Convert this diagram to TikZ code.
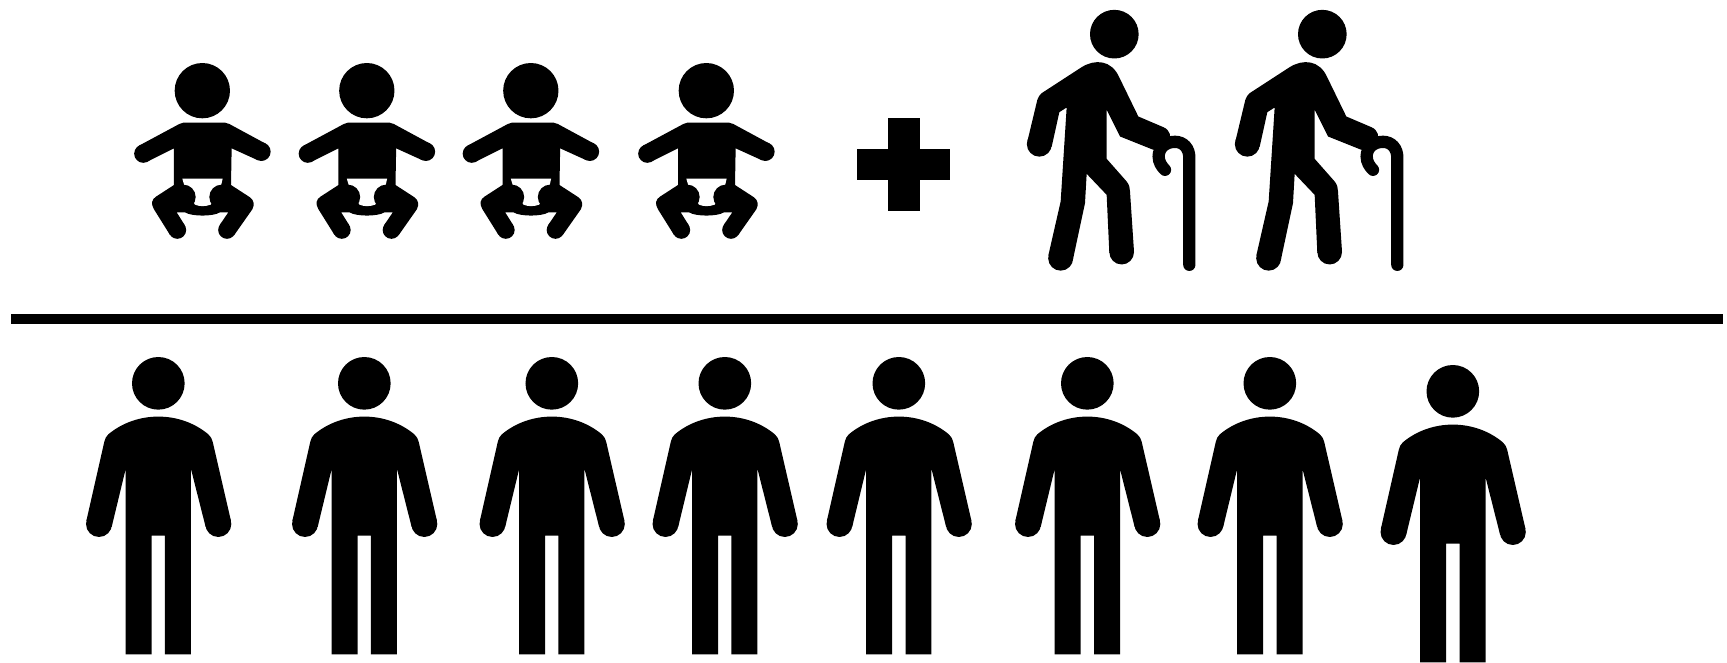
\documentclass[tikz,border=0pt]{standalone}
\tikzset{
  fig/.style={x=0.3333pt,y=-0.3333pt},
  blk/.style={fill=black,draw=none},
  cane/.style={draw=black,line width=12.3pt,line cap=round,fill=none},
}
\newcommand{\baby}[2]{\begin{scope}[shift={(#1,#2)},fig]
  \fill[blk] (247,122) circle (83);
  \fill[blk] (178,222) .. controls (182,219) and (186,218) .. (190,218) -- (315,218)
     .. controls (320,218) and (324,219) .. (328,222)
     -- (437,281) -- (412,330) -- (335,295) -- (333,405) -- (390,442)
     .. controls (402,450) and (404,465) .. (397,478)
     -- (342.5,555.5) -- (299.5,524.5) -- (325,487) -- (300,487)
     .. controls (280,500) and (215,500) .. (195,487)
     -- (170,487) -- (194.3,525.7) -- (149.7,554.3)
     -- (102,478) .. controls (92,462) and (95,448) .. (108,440)
     -- (162,405) -- (162,295) -- (82,335) -- (57,287) -- cycle;
  \fill[blk] (424,305) circle (28) (70,311) circle (27.5)
     (321,540) circle (26.5) (172,540) circle (26.5);
  \fill[white] (187,386) -- (308,386) -- (300,420) -- (272,464)
     .. controls (255,470) and (240,470) .. (225,464)
     -- (197,420) -- cycle;
  \fill[blk] (305,441) circle (37) (190,441) circle (37);
\end{scope}}
\newcommand{\elder}[2]{\begin{scope}[shift={(#1,#2)},fig]
  \fill[blk] (313,98) circle (73);
  \fill[blk] (215,197) .. controls (255,172) and (305,175) .. (328,228)
     -- (385,345) -- (460,377) .. controls (480,385) and (490,410) .. (470,425)
     -- (430,445) -- (330,405) -- (290,325) -- (290,472) -- (350,540)
     .. controls (358,550) and (360,560) .. (360,570)
     -- (372,750) -- (298,754) -- (290,580) -- (230,517) -- (225,605)
     -- (188,778) -- (115,762) -- (152,600) -- (170,318) -- (148,332)
     -- (125,436) -- (52,420)
     -- (82,295) .. controls (85,285) and (90,280) .. (95,275) -- cycle;
  \fill[blk] (335,752) circle (37) (152,770) circle (37.5) (88,428) circle (37.5);
  \draw[cane] (538,790) -- (538,468) .. controls (538,440) and (520,421) .. (495,421)
     .. controls (465,421) and (446,440) .. (446,465)
     .. controls (446,482) and (455,495) .. (465,505);
\end{scope}}
\newcommand{\person}[2]{\begin{scope}[shift={(#1,#2)},fig]
  \fill[blk] (265,115) circle (79);
  \fill[blk] (115,268) .. controls (200,197) and (330,197) .. (415,268)
     .. controls (422,274) and (426,282) .. (428,290)
     -- (483,528) -- (407,546)
     -- (363,372) -- (363,928) -- (285,928) -- (285,572) -- (245,572) -- (245,928)
     -- (167,928) -- (167,372) -- (125,546) -- (49,528)
     -- (103,290) .. controls (105,282) and (108,274) .. (115,268) -- cycle;
  \fill[blk] (87,537) circle (39) (445,537) circle (39);
\end{scope}}
\begin{document}
\begin{tikzpicture}[x=1pt,y=-1pt]
\useasboundingbox (0,0) rectangle (1727,662);
\fill[white] (0,0) rectangle (1727,662);
\baby{120}{50}\baby{284.5}{50}\baby{448.5}{50}\baby{624}{50}
\fill[black] (857.3,148.7) rectangle (950.3,180.3);
\fill[black] (888,118.3) rectangle (920,211.3);
\elder{1010}{1.5}\elder{1218}{1.5}
\fill[black] (11.3,314) rectangle (1722.7,323.7);
\person{70}{345}\person{276}{345}\person{463.5}{345}\person{636.5}{345}
\person{810.5}{345}\person{999}{345}\person{1181.5}{345}\person{1364.5}{353}
\end{tikzpicture}
\end{document}
